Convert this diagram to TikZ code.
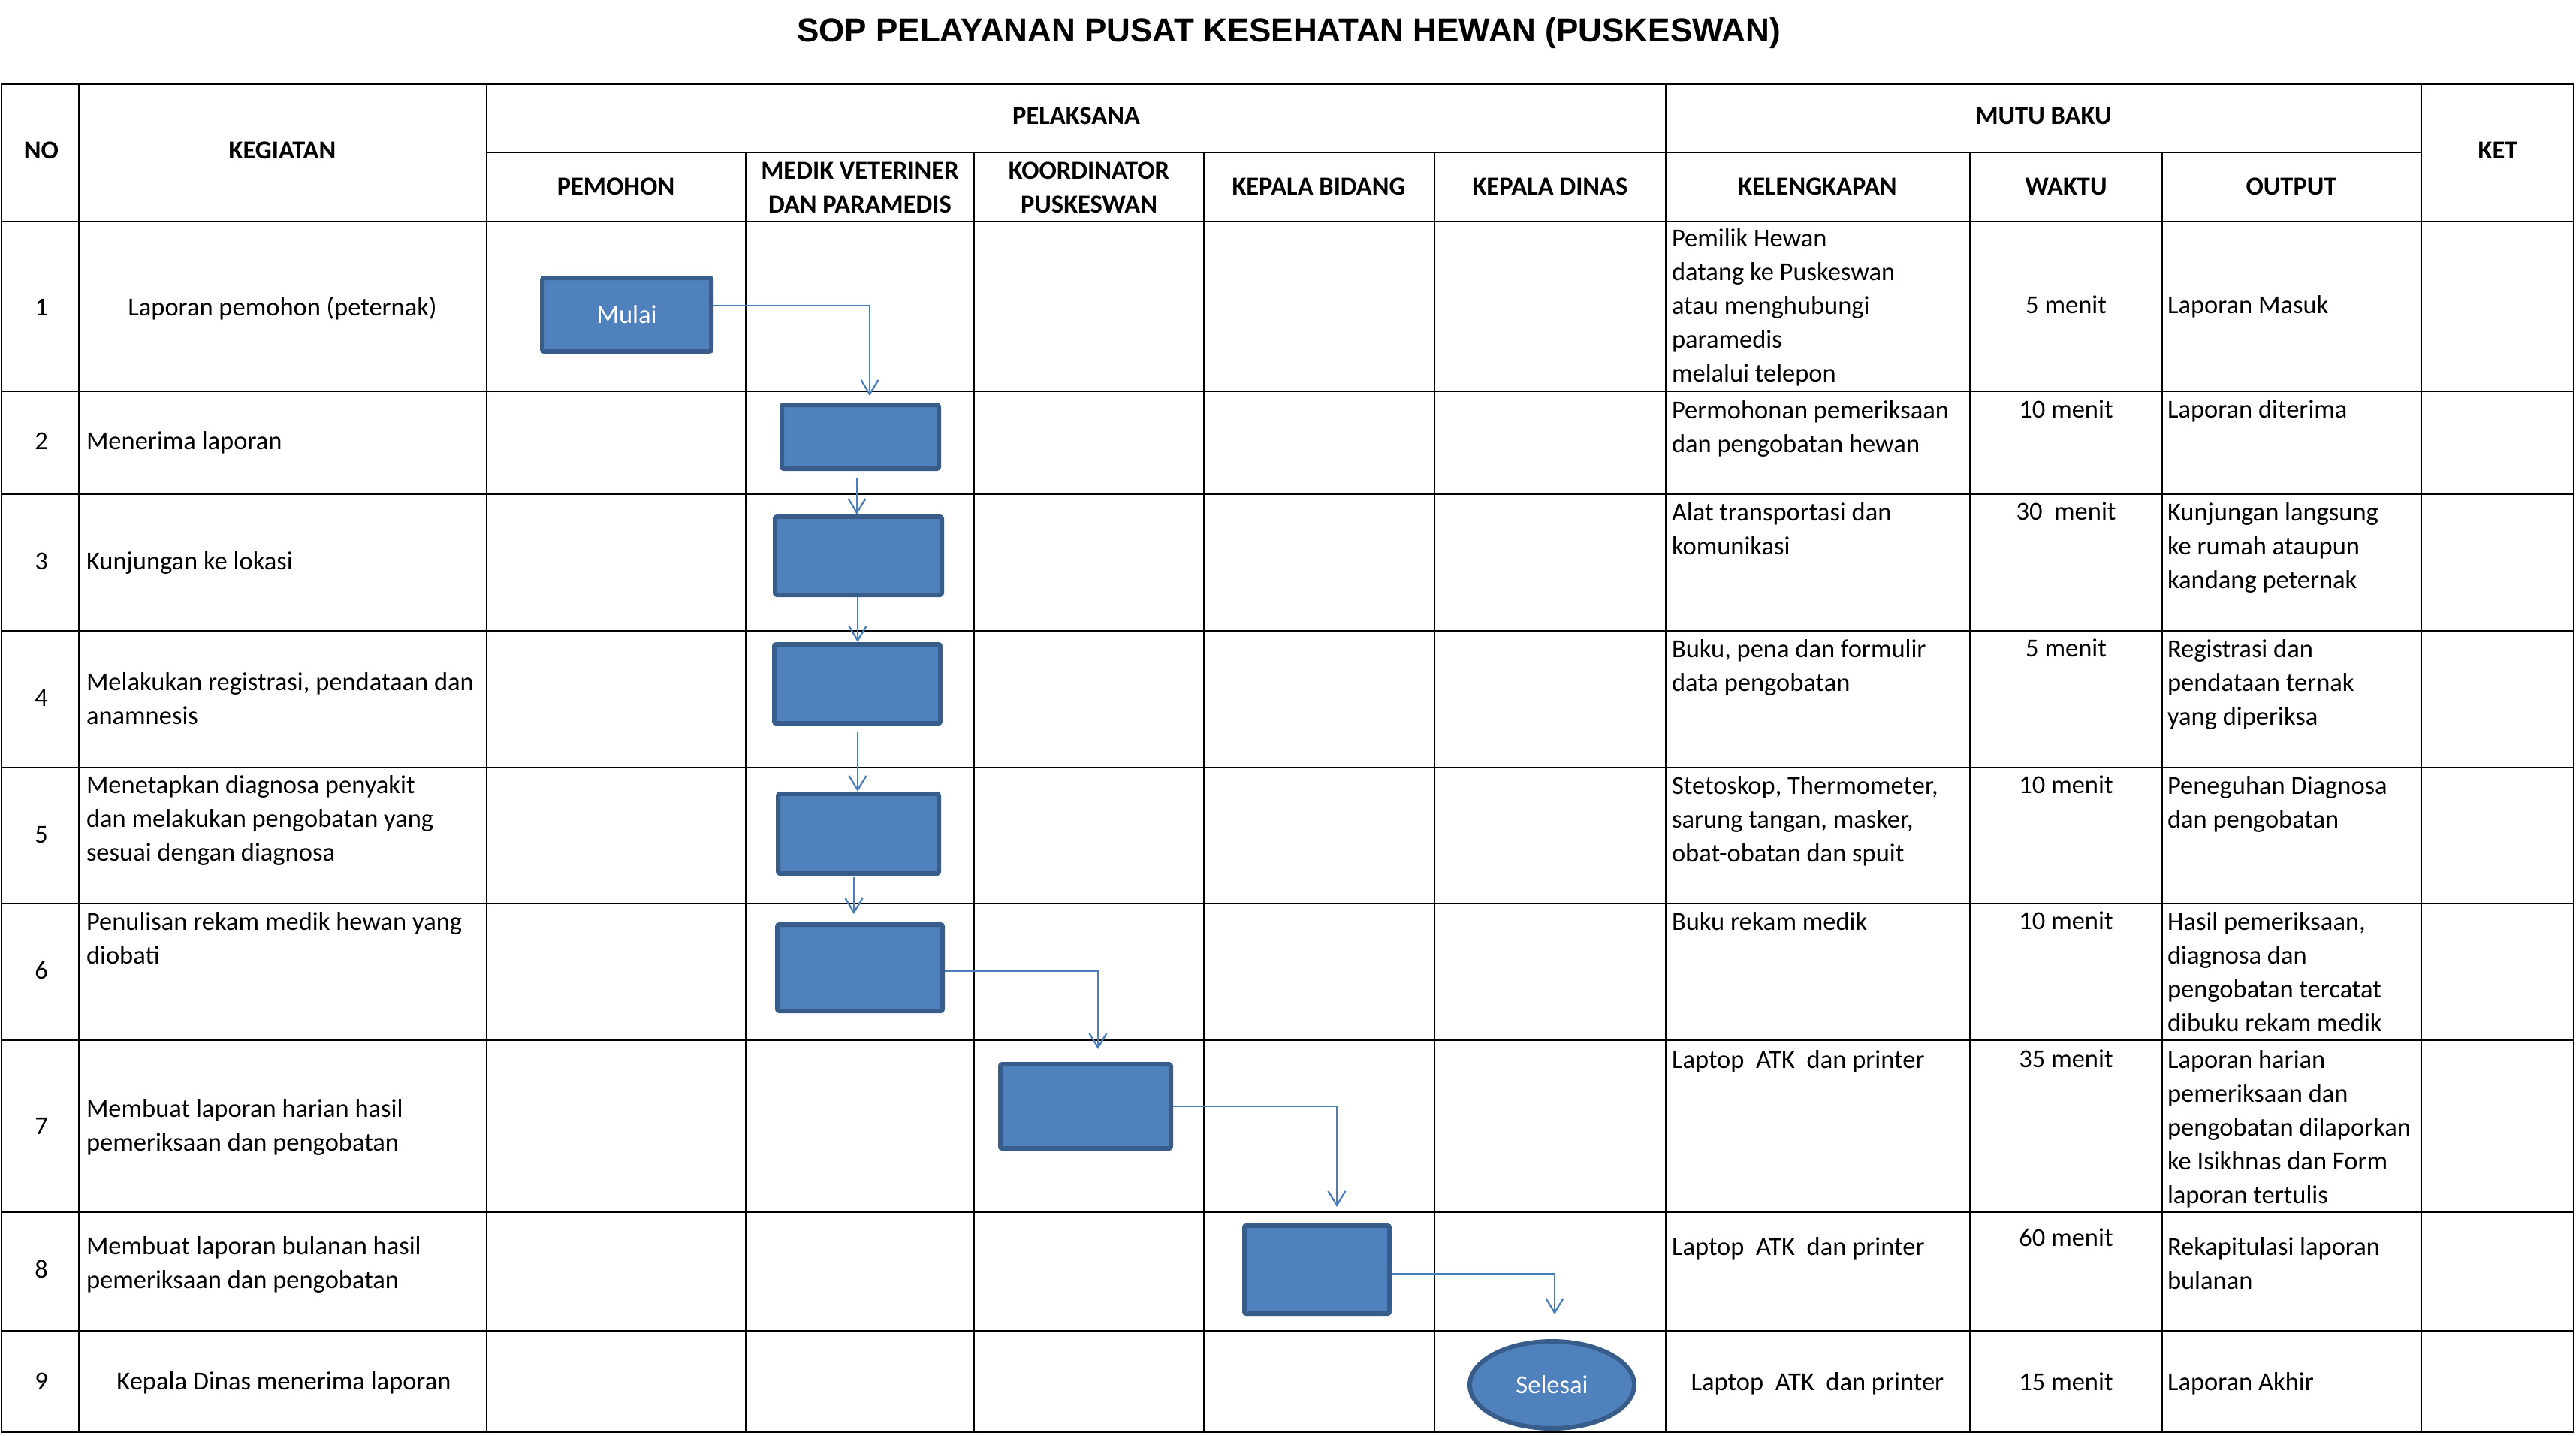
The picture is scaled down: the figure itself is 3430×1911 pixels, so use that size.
\documentclass[tikz,border=0pt]{standalone}
\usepackage{fontspec}
\setmainfont{Carlito}
\newfontfamily\titlefont{Liberation Sans}
\usetikzlibrary{arrows.meta,shapes.geometric}
\definecolor{boxfill}{HTML}{4F81BD}
\definecolor{boxline}{HTML}{385D8A}
\definecolor{conncol}{HTML}{4A7EBB}
\newcommand\mystrut{\rule{0pt}{6pt}}
\begin{document}
\begin{tikzpicture}[x=0.2pt,y=-0.2pt,
  grid/.style={line width=0.55pt,black},
  txt/.style={inner sep=0pt,font=\fontsize{6.9}{9}\selectfont},
  hdr/.style={inner sep=0pt,font=\fontsize{6.9}{9}\selectfont\bfseries},
  sl/.style={txt,anchor=base},
  slw/.style={txt,anchor=base west},
  ml/.style={txt,anchor=north west,align=left},
  proc/.style={draw=boxline,fill=boxfill,line width=1.2pt,rounded corners=0.5pt,inner sep=0pt,
    text=white,font=\fontsize{6.9}{9}\selectfont},
  term/.style={proc,ellipse},
  conn/.style={draw=conncol,line width=0.45pt,-{Straight Barb[length=3.8pt,width=4.6pt]}}
]
\useasboundingbox[fill=white] (0,0) rectangle (3430,1911);

% title
\node[anchor=base,inner sep=0pt,font=\titlefont\bfseries\fontsize{8.8}{10}\selectfont] (title) at (1716,55) {SOP PELAYANAN PUSAT KESEHATAN HEWAN (PUSKESWAN)};

% grid
\draw[grid] (2,112) rectangle (3427,1907);
\foreach \y in {295,521,658,840,1022,1203,1385,1614,1772} \draw[grid] (2,\y) -- (3427,\y);
\draw[grid] (648,203) -- (3224,203);
\foreach \x in {105,648,2218,3224} \draw[grid] (\x,112) -- (\x,1907);
\foreach \x in {993,1297,1603,1910,2623,2879} \draw[grid] (\x,203) -- (\x,1907);

% headers
\node[hdr,anchor=base] (hNo) at (55,211) {NO};
\node[hdr,anchor=base] (hKeg) at (376,211) {KEGIATAN};
\node[hdr,anchor=base] (hPel) at (1433,165) {PELAKSANA};
\node[hdr,anchor=base] (hMutu) at (2721,165) {MUTU BAKU};
\node[hdr,anchor=base] (hKet) at (3326,211) {KET};
\node[hdr,anchor=base] (hPem) at (820,259) {PEMOHON};
\node[hdr,anchor=north,align=center] (hMed) at (1145,207) {\mystrut MEDIK VETERINER\\DAN PARAMEDIS};
\node[hdr,anchor=north,align=center] (hKoor) at (1450,207) {\mystrut KOORDINATOR\\PUSKESWAN};
\node[hdr,anchor=base] (hKB) at (1756,259) {KEPALA BIDANG};
\node[hdr,anchor=base] (hKD) at (2064,259) {KEPALA DINAS};
\node[hdr,anchor=base] (hKel) at (2420,259) {KELENGKAPAN};
\node[hdr,anchor=base] (hWak) at (2751,259) {WAKTU};
\node[hdr,anchor=base] (hOut) at (3051,259) {OUTPUT};

% NO column
\node[sl] (n1) at (55,420) {1};
\node[sl] (n2) at (55,598) {2};
\node[sl] (n3) at (55,758) {3};
\node[sl] (n4) at (55,940) {4};
\node[sl] (n5) at (55,1122) {5};
\node[sl] (n6) at (55,1303) {6};
\node[sl] (n7) at (55,1510) {7};
\node[sl] (n8) at (55,1701) {8};
\node[sl] (n9) at (55,1850) {9};

% KEGIATAN column
\node[sl] (k1) at (376,420) {Laporan pemohon (peternak)};
\node[slw] (k2) at (114,598) {Menerima laporan};
\node[slw] (k3) at (114,758) {Kunjungan ke lokasi};
\node[ml] (k4) at (114,888) {\mystrut Melakukan registrasi, pendataan dan\\anamnesis};
\node[ml] (k5) at (114,1025) {\mystrut Menetapkan diagnosa penyakit\\dan melakukan pengobatan yang\\sesuai dengan diagnosa};
\node[ml] (k6) at (114,1207) {\mystrut Penulisan rekam medik hewan yang\\diobati};
\node[ml] (k7) at (114,1456) {\mystrut Membuat laporan harian hasil\\pemeriksaan dan pengobatan};
\node[ml] (k8) at (114,1639) {\mystrut Membuat laporan bulanan hasil\\pemeriksaan dan pengobatan};
\node[sl] (k9) at (378,1850) {Kepala Dinas menerima laporan};

% KELENGKAPAN column
\node[ml] (kl1) at (2225,297) {\mystrut Pemilik Hewan\\datang ke Puskeswan\\atau menghubungi\\paramedis\\melalui telepon};
\node[ml] (kl2) at (2225,526) {\mystrut Permohonan pemeriksaan\\dan pengobatan hewan};
\node[ml] (kl3) at (2225,662) {\mystrut Alat transportasi dan\\komunikasi};
\node[ml] (kl4) at (2225,844) {\mystrut Buku, pena dan formulir\\data pengobatan};
\node[ml] (kl5) at (2225,1026) {\mystrut Stetoskop, Thermometer,\\sarung tangan, masker,\\obat-obatan dan spuit};
\node[ml] (kl6) at (2225,1207) {\mystrut Buku rekam medik};
\node[ml] (kl7) at (2225,1391) {\mystrut Laptop\ \ ATK\ \ dan printer};
\node[ml] (kl8) at (2225,1640) {\mystrut Laptop\ \ ATK\ \ dan printer};
\node[sl] (kl9) at (2420,1851) {Laptop\ \ ATK\ \ dan printer};

% WAKTU column
\node[sl] (w1) at (2751,417) {5 menit};
\node[sl] (w2) at (2751,556) {10 menit};
\node[sl] (w3) at (2751,692) {30\ \ menit};
\node[sl] (w4) at (2751,874) {5 menit};
\node[sl] (w5) at (2751,1056) {10 menit};
\node[sl] (w6) at (2751,1237) {10 menit};
\node[sl] (w7) at (2751,1421) {35 menit};
\node[sl] (w8) at (2751,1659) {60 menit};
\node[sl] (w9) at (2751,1851) {15 menit};

% OUTPUT column
\node[slw] (o1) at (2885,417) {Laporan Masuk};
\node[slw] (o2) at (2885,556) {Laporan diterima};
\node[ml] (o3) at (2885,662) {\mystrut Kunjungan langsung\\ke rumah ataupun\\kandang peternak};
\node[ml] (o4) at (2885,844) {\mystrut Registrasi dan\\pendataan ternak\\yang diperiksa};
\node[ml] (o5) at (2885,1026) {\mystrut Peneguhan Diagnosa\\dan pengobatan};
\node[ml] (o6) at (2885,1207) {\mystrut Hasil pemeriksaan,\\diagnosa dan\\pengobatan tercatat\\dibuku rekam medik};
\node[ml] (o7) at (2885,1391) {\mystrut Laporan harian\\pemeriksaan dan\\pengobatan dilaporkan\\ke Isikhnas dan Form\\laporan tertulis};
\node[ml] (o8) at (2885,1640) {\mystrut Rekapitulasi laporan\\bulanan};
\node[slw] (o9) at (2885,1851) {Laporan Akhir};

% flow shapes
\node[proc,minimum width=45pt,minimum height=19.6pt] (mulai) at (834.5,419) {Mulai};
\node[proc,minimum width=41.8pt,minimum height=17pt] (b2) at (1145.5,581.5) {};
\node[proc,minimum width=44.4pt,minimum height=20.8pt] (b3) at (1143,740) {};
\node[proc,minimum width=44.2pt,minimum height=21pt] (b4) at (1141.5,910.5) {};
\node[proc,minimum width=42.8pt,minimum height=21.2pt] (b5) at (1143,1110) {};
\node[proc,minimum width=44pt,minimum height=23pt] (b6) at (1145,1288.5) {};
\node[proc,minimum width=45.4pt,minimum height=22.4pt] (b7) at (1445.5,1473) {};
\node[proc,minimum width=38.6pt,minimum height=23.4pt] (b8) at (1753.5,1690.5) {};
\node[term,minimum width=43.8pt,minimum height=23.2pt] (sel) at (2066.5,1844) {Selesai};

% connectors
\draw[conn] ([yshift=2.4pt]mulai.east) -| ([xshift=2.5pt,yshift=1.8pt]b2.north);
\draw[conn] ([xshift=-0.9pt,yshift=-1.8pt]b2.south) -- ([xshift=-0.9pt]b2.south |- b3.north);
\draw[conn] ([xshift=-0.2pt]b3.south) -- ([xshift=-0.2pt]b3.south |- b4.north);
\draw[conn] ([xshift=0.1pt,yshift=-1.8pt]b4.south) -- ([xshift=0.1pt]b4.south |- b5.north);
\draw[conn] ([xshift=-1.2pt,yshift=-0.4pt]b5.south) -- ([xshift=-1.2pt,yshift=2.2pt]b5.south |- b6.north);
\draw[conn] ([yshift=-0.9pt]b6.east) -| ([xshift=3.3pt,yshift=3.4pt]b7.north);
\draw[conn] (b7.east) -| ([xshift=5.3pt,yshift=4.4pt]b8.north);
\draw[conn] ([yshift=-1.1pt]b8.east) -| ([xshift=0.7pt,yshift=6.6pt]sel.north);
\end{tikzpicture}
\end{document}
